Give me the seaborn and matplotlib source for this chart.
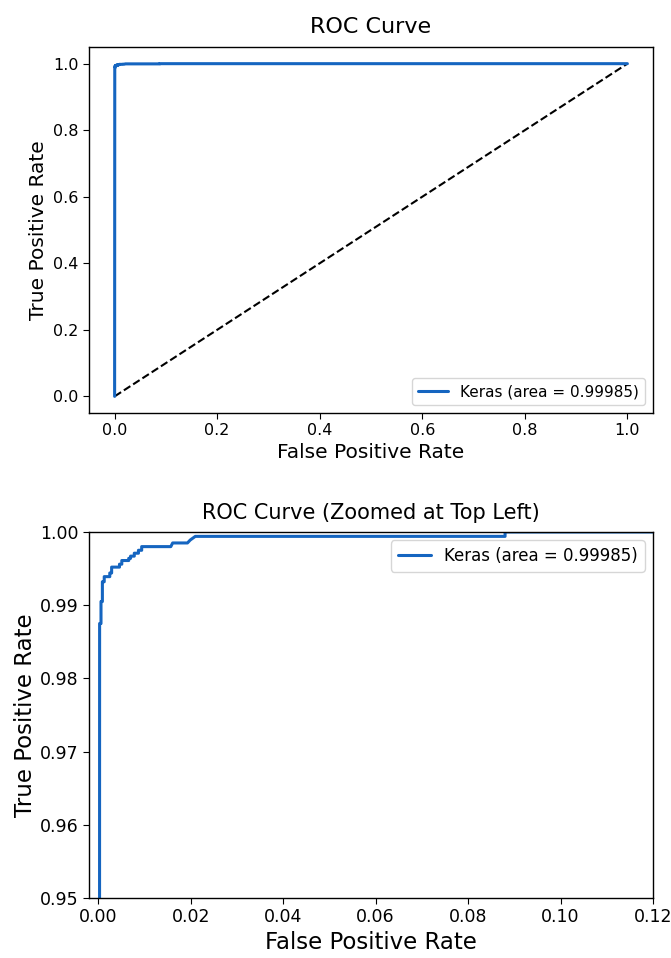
import matplotlib
matplotlib.use("Agg")
import matplotlib.pyplot as plt
import seaborn as sns
import pandas as pd

# ROC curve corner points
fpr = [0.0, 0.0003, 0.0006, 0.0006, 0.0009, 0.0009, 0.0013, 0.0013, 0.0025, 0.0025,
       0.0029, 0.0029, 0.0046, 0.0046, 0.0051, 0.0051, 0.0066, 0.0066, 0.0070, 0.0070,
       0.0078, 0.0078, 0.0087, 0.0087, 0.0094, 0.0094, 0.0157, 0.0161, 0.0193, 0.0199,
       0.0210, 0.0880, 0.0880, 1.0]
tpr = [0.0, 0.9875, 0.9875, 0.9905, 0.9905, 0.9932, 0.9932, 0.9939, 0.9939, 0.9944,
       0.9944, 0.9952, 0.9952, 0.9956, 0.9956, 0.9961, 0.9961, 0.9964, 0.9964, 0.9967,
       0.9967, 0.9971, 0.9971, 0.9975, 0.9975, 0.9980, 0.9980, 0.9985, 0.9985, 0.9989,
       0.9994, 0.9994, 1.0, 1.0]
diag = [0.0, 1.0]
label = "Keras (area = 0.99985)"

x_ticks_zoom = [0.00, 0.02, 0.04, 0.06, 0.08, 0.10, 0.12]
y_ticks_zoom = [0.95, 0.96, 0.97, 0.98, 0.99, 1.00]

df = pd.DataFrame({"fpr": fpr, "tpr": tpr})
ddf = pd.DataFrame({"x": diag, "y": diag})

sns.set_style("ticks")
plt.rcParams["font.family"] = ["DejaVu Sans"]
plt.rcParams["text.color"] = "black"
plt.rcParams["axes.labelcolor"] = "black"

fig = plt.figure(figsize=(6.71, 9.58), dpi=100)
ax1 = fig.add_axes([0.1326, 0.5689, 0.8406, 0.3820])
ax2 = fig.add_axes([0.1326, 0.0626, 0.8406, 0.3821])

line_color = "#1565c0"

for ax in (ax1, ax2):
    sns.lineplot(data=ddf, x="x", y="y", ax=ax, color="black", linestyle="--",
                 linewidth=1.5, sort=False, estimator=None)
    sns.lineplot(data=df, x="fpr", y="tpr", ax=ax, color=line_color, linewidth=2.2,
                 sort=False, estimator=None, label=label)
    for s in ax.spines.values():
        s.set_color("black")
        s.set_linewidth(1.0)
    ax.tick_params(colors="black", length=4)

ax1.tick_params(labelsize=11.5)
ax2.tick_params(labelsize=12.5)
ax1.set_xlabel("False Positive Rate", fontsize=14.5, labelpad=3)
ax1.set_ylabel("True Positive Rate", fontsize=14.5)
ax2.set_xlabel("False Positive Rate", fontsize=16.5, labelpad=3)
ax2.set_ylabel("True Positive Rate", fontsize=16.5, labelpad=2)

ax1.set_xlim(-0.05, 1.05)
ax1.set_ylim(-0.05, 1.05)
ax1.set_xticks([0.0, 0.2, 0.4, 0.6, 0.8, 1.0])
ax1.set_yticks([0.0, 0.2, 0.4, 0.6, 0.8, 1.0])
ax1.set_title("ROC Curve", fontsize=16, pad=10, color="black")
ax1.legend(loc="lower right", fontsize=11)

ax2.set_xlim(-0.002, 0.12)
ax2.set_ylim(0.95, 1.0)
ax2.set_xticks(x_ticks_zoom)
ax2.set_yticks(y_ticks_zoom)
ax2.set_xticklabels([f"{v:.2f}" for v in x_ticks_zoom])
ax2.set_yticklabels([f"{v:.2f}" for v in y_ticks_zoom])
ax2.set_title("ROC Curve (Zoomed at Top Left)", fontsize=15, pad=9, color="black")
ax2.legend(loc="upper right", fontsize=12)

fig.savefig("out.png", dpi=100)
